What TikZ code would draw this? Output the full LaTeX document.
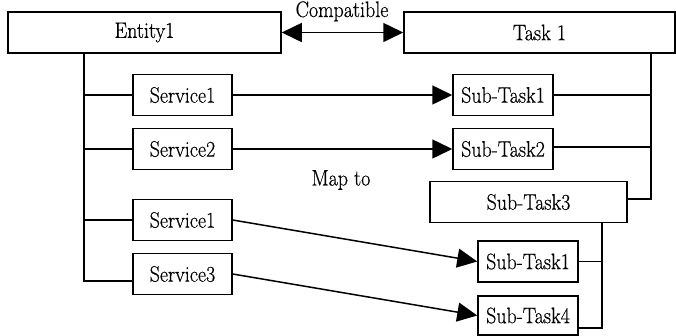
\documentclass[tikz,border=0pt]{standalone}
\usepackage{fontspec}
\newfontfamily\serf{Latin Modern Roman}[FakeBold=0.6]
\usetikzlibrary{arrows.meta}
\newcommand{\tall}[1]{\scalebox{1}[1.12]{#1}}
\begin{document}
\begin{tikzpicture}[x=1pt,y=-1pt,
  box/.style={draw=black, line width=1.5pt, inner sep=0pt, minimum height=41pt, font=\serf\fontsize{20}{24}\selectfont},
  link/.style={line width=1.5pt},
  tip/.style={link, -{Triangle[length=20pt,width=19pt]}},
  lbl/.style={font=\serf\fontsize{20}{24}\selectfont, inner sep=0pt}]
\useasboundingbox (0,0) rectangle (676,335);
\node[box, minimum width=273pt] (ent) at (144.5,32.5) {\tall{Entity1}};
\node[box, minimum width=271pt] (task) at (539.5,32.5) {\tall{Task 1}};
\node[box, minimum width=99pt] (s1) at (182.5,95) {\tall{Service1}};
\node[box, minimum width=99pt] (s2) at (182.5,149) {\tall{Service2}};
\node[box, minimum width=99pt] (s1b) at (182.5,220) {\tall{Service1}};
\node[box, minimum width=99pt] (s3) at (182.5,274) {\tall{Service3}};
\node[box, minimum width=100pt] (t1) at (503,95) {\tall{Sub-Task1}};
\node[box, minimum width=100pt] (t2) at (503,149) {\tall{Sub-Task2}};
\node[box, minimum width=197pt] (t3) at (528.5,202) {\tall{Sub-Task3}};
\node[box, minimum width=100pt] (t1b) at (528,261.5) {\tall{Sub-Task1}};
\node[box, minimum width=100pt, minimum height=39pt] (t4) at (528,315.5) {\tall{Sub-Task4}};
\node[lbl, anchor=base] (compat) at (342,17) {\tall{Compatible}};
\node[lbl] (mapto) at (341,180) {\tall{Map to}};
% compatible arrow
\draw[link, {Triangle[length=20pt,width=19pt]}-{Triangle[length=20pt,width=19pt]}] (ent.east) -- (task.west);
% left trunk
\coordinate (lt) at (84,52);
\coordinate (lb) at (84,281);
\draw[link] (lt) -- (lb) -- (s3.west |- lb);
\draw[link] (lt |- s1) -- (s1.west);
\draw[link] (lt |- s2) -- (s2.west);
\draw[link] (lt |- s1b) -- (s1b.west);
% right trunk
\coordinate (rt) at (651,52);
\coordinate (rb) at (651,199);
\draw[link] (rt) -- (rb) -- (t3.east |- rb);
\draw[link] (t1.east) -- (rt |- t1);
\draw[link] (t2.east |- 0,147) -- (rt |- 0,147);
% sub trunk
\coordinate (st) at (602,223);
\coordinate (sb) at (602,328);
\draw[link] (st) -- (sb) -- (t4.east |- sb);
\draw[link] (t1b.east) -- (st |- t1b);
% mappings
\draw[tip] (s1.east) -- (t1.west);
\draw[tip] (s2.east) -- (t2.west |- s2.east);
\draw[tip] (s1b.east) -- (t1b.west);
\draw[tip] (s3.east) -- (t4.west);
\end{tikzpicture}
\end{document}
